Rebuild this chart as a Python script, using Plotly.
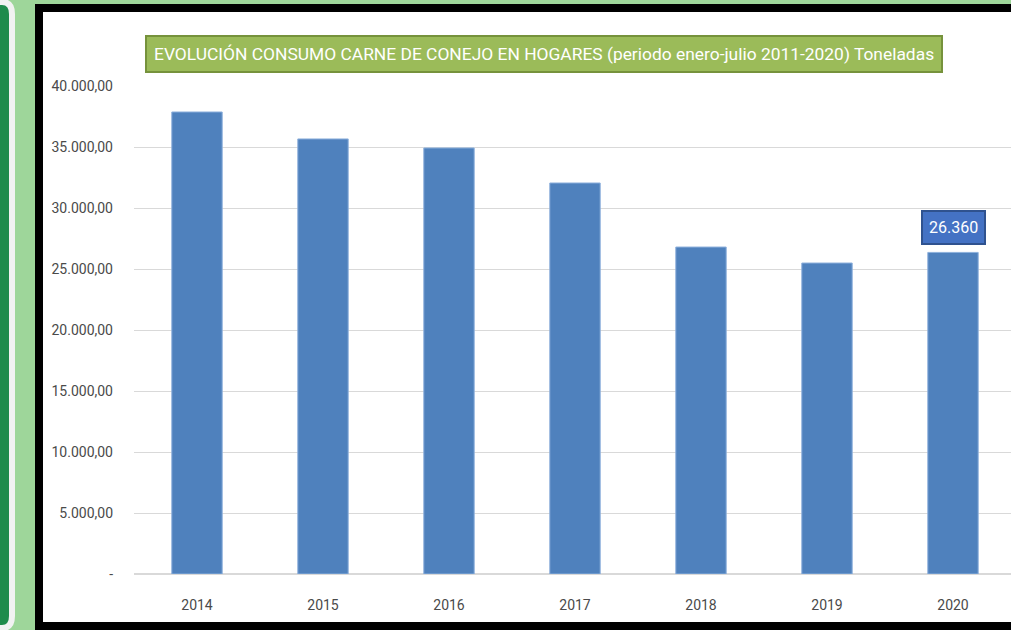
import plotly.graph_objects as go

years = ["2014", "2015", "2016", "2017", "2018", "2019", "2020"]
tons = [37870, 35660, 34920, 32050, 26800, 25490, 26360]
ytick_vals = [0, 5000, 10000, 15000, 20000, 25000, 30000, 35000, 40000]
ytick_text = ["-", "5.000,00", "10.000,00", "15.000,00", "20.000,00",
              "25.000,00", "30.000,00", "35.000,00", "40.000,00"]
title_text = "EVOLUCIÓN CONSUMO CARNE DE CONEJO EN HOGARES (periodo enero-julio 2011-2020) Toneladas"
label_text = "26.360"

W, H = 1011, 630
FONT = "Roboto, Liberation Sans, sans-serif"

def px(x):
    return x / W

def py(y):
    return 1 - y / H

fig = go.Figure()
fig.add_trace(go.Bar(
    x=years, y=tons, width=0.4,
    marker=dict(color="#4F81BD", line=dict(color="#8DB0DC", width=1)),
    hoverinfo="x+y",
))

shapes = [
    dict(type="rect", xref="paper", yref="paper", x0=px(35), x1=px(W + 5), y0=py(H + 5), y1=py(4),
         fillcolor="#000000", line=dict(width=0), layer="below"),
    dict(type="rect", xref="paper", yref="paper", x0=px(43), x1=px(W + 5), y0=py(622), y1=py(12),
         fillcolor="#FFFFFF", line=dict(width=0), layer="below"),
    dict(type="path", xref="paper", yref="paper",
         path=(f"M {px(-20)},{py(2)} L {px(2)},{py(2)} Q {px(12)},{py(2)} {px(12)},{py(14)} "
               f"L {px(12)},{py(616)} Q {px(12)},{py(628)} {px(2)},{py(628)} L {px(-20)},{py(628)} Z"),
         fillcolor="#1F8B4C", line=dict(color="#F2F2F2", width=6), layer="below"),
]
fig.update_layout(shapes=shapes)

fig.add_annotation(
    xref="paper", yref="paper", x=px(544), y=py(54), xanchor="center", yanchor="middle",
    text=title_text, showarrow=False,
    font=dict(family=FONT, size=17.4, color="#FFFFFF"),
    bgcolor="#9BBB59", bordercolor="#76923C", borderwidth=2, borderpad=7,
)
last = len(years) - 1
fig.add_annotation(
    x=last, y=tons[last], xref="x", yref="y", yanchor="bottom", yshift=7,
    text=label_text, showarrow=False,
    font=dict(family=FONT, size=16, color="#FFFFFF"),
    bgcolor="#4472C4", bordercolor="#2F528F", borderwidth=2, borderpad=6,
)

fig.update_layout(
    width=W, height=H,
    margin=dict(l=0, r=0, t=0, b=0, autoexpand=False),
    paper_bgcolor="#9ED69A",
    plot_bgcolor="rgba(0,0,0,0)",
    showlegend=False,
    bargap=0.6,
    xaxis=dict(
        type="category",
        domain=[px(134), 1.0],
        range=[-0.5, (W - 197) / 126],
        automargin=False,
        showgrid=False, showline=True, linecolor="#D9D9D9", linewidth=1,
        ticks="", tickfont=dict(family=FONT, size=14, color="#4A4A4A"),
        ticklabelstandoff=18,
    ),
    yaxis=dict(
        domain=[py(574), py(86)],
        range=[0, 40000],
        automargin=False,
        tickvals=ytick_vals, ticktext=ytick_text,
        showgrid=True, gridcolor="#D9D9D9", gridwidth=1,
        zeroline=True, zerolinecolor="#D9D9D9",
        ticks="", tickfont=dict(family=FONT, size=14, color="#4A4A4A"),
        ticklabelstandoff=20,
    ),
)

fig.write_html("out.html", config={"displayModeBar": False},
               post_script="document.body.style.margin='0';document.body.style.overflow='hidden';")
